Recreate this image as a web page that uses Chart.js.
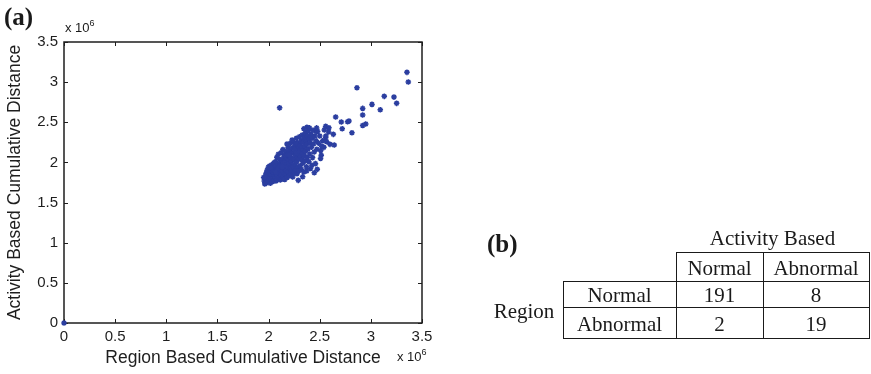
<!DOCTYPE html>
<html>
<head>
<meta charset="utf-8">
<script src="https://cdn.jsdelivr.net/npm/chart.js@4.4.1/dist/chart.umd.min.js"></script>
<style>
  html,body{margin:0;padding:0;background:#fff;}
  #wrap{position:relative;width:871px;height:374px;overflow:hidden;}
  canvas{position:absolute;left:0;top:0;}
  .lbl{position:absolute;white-space:nowrap;color:#1a1a1a;}
  .panel{font-family:"Liberation Serif","Times New Roman",serif;font-weight:bold;font-size:25px;line-height:1;}
  .mult{font-family:"Liberation Sans",Arial,sans-serif;font-size:13px;line-height:1;}
  .mult sup{font-size:9px;position:relative;top:-2px;vertical-align:top;}
  .tt{font-family:"Liberation Serif","Times New Roman",serif;font-size:21px;line-height:1;transform:translate(-50%,-50%);}
  .ln{position:absolute;background:#1a1a1a;}
</style>
</head>
<body>
<div id="wrap">
  <canvas id="c" width="871" height="374"></canvas>
  <div class="lbl panel" style="left:4px;top:4px;">(a)</div>
  <div class="lbl mult" style="left:65px;top:21px;">x 10<sup>6</sup></div>
  <div class="lbl mult" style="left:397px;top:350px;">x 10<sup>6</sup></div>
  <div class="lbl panel" style="left:487px;top:231px;">(b)</div>
</div>
<script>
// ---- scatter data (values in units of 10^6) ----
const regionDist = [
  3.353,3.366,2.864,2.108,3.131,3.226,3.252,3.011,3.092,2.920,
  2.920,2.656,2.711,2.773,2.786,2.720,2.815,2.920,2.950,2.558,
  2.590,2.375,2.366,2.463,2.587,2.633,2.558,2.568,2.600,2.642,
  2.541,2.515,2.476,2.447,2.424,2.372,2.333,2.290,2.284,0,
  1.952,1.958,1.963,1.970,1.975,1.981,1.986,1.990,1.994,1.998,1.999,1.967,1.984,
  2.003,2.006,2.010,2.013,2.017,2.021,2.024,2.028,2.031,2.035,2.038,2.042,2.045,2.048,2.052,2.055,2.058,2.060,2.026,2.047,
  2.063,2.066,2.069,2.072,2.075,2.078,2.081,2.084,2.087,2.090,2.093,2.096,2.099,2.102,2.105,2.108,2.111,2.114,2.117,2.119,2.070,2.095,2.112,
  2.122,2.125,2.128,2.131,2.134,2.137,2.140,2.143,2.146,2.149,2.152,2.155,2.158,2.161,2.164,2.167,2.170,2.173,2.176,2.178,2.135,2.160,
  2.182,2.185,2.188,2.191,2.194,2.197,2.200,2.203,2.206,2.209,2.212,2.215,2.218,2.221,2.224,2.227,2.230,2.233,2.236,2.239,2.200,2.225,
  2.242,2.245,2.248,2.251,2.254,2.257,2.260,2.263,2.266,2.269,2.272,2.275,2.278,2.281,2.284,2.287,2.290,2.293,2.296,2.299,2.255,2.275,
  2.302,2.305,2.308,2.311,2.314,2.317,2.320,2.323,2.326,2.329,2.332,2.335,2.338,2.341,2.344,2.347,2.350,2.353,2.356,2.359,
  2.362,2.366,2.370,2.374,2.378,2.382,2.386,2.390,2.394,2.398,2.402,2.406,2.410,2.414,2.418,
  2.425,2.430,2.435,2.440,2.446,2.452,2.458,2.465,2.472,2.480,2.490,2.500,2.508,
  2.530,2.545,2.520,2.470,2.400,2.345,2.510,2.560,2.180,2.230
];
const activityDist = [
  3.122,3.001,2.930,2.680,2.823,2.814,2.736,2.723,2.656,2.673,
  2.590,2.565,2.503,2.507,2.516,2.420,2.370,2.460,2.478,2.449,
  2.432,2.437,2.375,2.390,2.380,2.350,2.307,2.257,2.225,2.217,
  2.188,2.088,1.914,1.872,1.964,1.893,1.822,1.777,2.245,0,
  1.812,1.768,1.731,1.745,1.861,1.790,1.902,1.752,1.835,1.940,1.801,1.826,1.880,
  1.772,1.868,1.955,1.818,1.741,1.906,1.845,1.790,1.972,1.883,1.760,1.927,1.813,1.858,1.995,1.779,1.942,1.836,1.931,1.880,
  1.901,1.812,2.010,1.768,1.958,1.855,2.063,1.790,1.917,1.833,1.981,2.102,1.874,1.807,1.946,2.040,1.858,1.781,1.991,1.902,1.880,1.930,1.960,
  2.120,1.840,1.962,1.795,2.035,1.898,2.160,1.823,1.995,1.935,2.078,1.862,1.787,2.010,1.918,2.140,1.850,1.970,2.055,1.900,1.945,2.090,
  1.812,2.098,1.945,2.190,1.880,2.031,1.990,1.835,2.150,1.925,2.072,2.238,1.868,2.011,1.960,2.118,1.898,2.180,1.820,2.050,2.100,1.935,
  2.262,1.945,2.120,1.872,2.035,2.205,1.985,2.090,1.905,2.155,2.300,2.010,1.860,2.232,2.065,1.940,2.180,2.110,1.898,2.045,2.160,2.120,
  2.320,2.140,1.960,2.215,2.070,2.268,1.915,2.180,2.035,2.340,2.110,1.990,2.250,2.160,1.880,2.300,2.085,2.205,2.020,2.360,
  2.140,2.280,1.945,2.225,2.060,2.330,2.170,2.395,2.010,2.290,2.105,2.245,1.925,2.350,2.190,
  2.300,2.060,2.400,2.230,2.130,2.330,1.985,2.270,2.165,2.385,2.240,2.330,2.050,
  2.270,2.405,2.200,2.430,2.430,2.420,2.150,2.330,2.230,2.280
];
const xTicks = [0,0.5,1,1.5,2,2.5,3,3.5];
const yTicks = [0,0.5,1,1.5,2,2.5,3,3.5];
const xTickLabels = ['0','0.5','1','1.5','2','2.5','3','3.5'];
const yTickLabels = ['0','0.5','1','1.5','2','2.5','3','3.5'];

// ---- table data ----
const tableColTitle = 'Activity Based';
const tableRowTitle = 'Region';
const classes = ['Normal','Abnormal'];
const counts = [[191,8],[2,19]];

const points = regionDist.map((x,i)=>({x:x,y:activityDist[i]}));

const boxPlugin = {
  id:'box',
  beforeDatasetsDraw(chart){
    const {ctx, chartArea:a, scales:{x,y}} = chart;
    ctx.save();
    ctx.strokeStyle='#1e1e1e';
    ctx.lineWidth=1.5;
    ctx.strokeRect(a.left,a.top,a.right-a.left,a.bottom-a.top);
    ctx.lineWidth=1;
    ctx.beginPath();
    xTicks.forEach(v=>{
      const p=Math.round(x.getPixelForValue(v))+0.5;
      ctx.moveTo(p,a.bottom);ctx.lineTo(p,a.bottom-4);
      ctx.moveTo(p,a.top);ctx.lineTo(p,a.top+4);
    });
    yTicks.forEach(v=>{
      const p=Math.round(y.getPixelForValue(v))+0.5;
      ctx.moveTo(a.left,p);ctx.lineTo(a.left+4,p);
      ctx.moveTo(a.right,p);ctx.lineTo(a.right-4,p);
    });
    ctx.stroke();
    ctx.restore();
  }
};

const tickFont = {family:'"Liberation Sans", Arial, sans-serif', size:15};
const titleFont = {family:'"Liberation Sans", Arial, sans-serif', size:17.5};

new Chart(document.getElementById('c'), {
  type:'scatter',
  data:{datasets:[{
    data:points,
    pointStyle:'star',
    radius:2.8,
    borderWidth:1.5,
    borderColor:'#2b3ea0',
    backgroundColor:'#2b3ea0',
    clip:false
  }]},
  options:{
    responsive:false,
    devicePixelRatio:1,
    animation:false,
    events:[],
    layout:{padding:{left:0,top:42,right:449,bottom:0}},
    plugins:{legend:{display:false},tooltip:{enabled:false}},
    scales:{
      x:{
        type:'linear', min:0, max:3.5,
        afterBuildTicks:(s)=>{s.ticks = xTicks.map(v=>({value:v}));},
        afterFit:(s)=>{s.height=51;},
        grid:{display:false,drawTicks:false},
        border:{display:false},
        ticks:{font:tickFont,color:'#1e1e1e',padding:5,maxRotation:0,autoSkip:false,
               callback:(v,i)=>xTickLabels[i]},
        title:{display:true,text:'Region Based Cumulative Distance',font:titleFont,color:'#1e1e1e',padding:{top:0,bottom:5}}
      },
      y:{
        type:'linear', min:0, max:3.5,
        afterBuildTicks:(s)=>{s.ticks = yTicks.map(v=>({value:v}));},
        afterFit:(s)=>{s.width=64;},
        grid:{display:false,drawTicks:false},
        border:{display:false},
        ticks:{font:tickFont,color:'#1e1e1e',padding:6,autoSkip:false,
               callback:(v,i)=>yTickLabels[i]},
        title:{display:true,text:'Activity Based Cumulative Distance',font:titleFont,color:'#1e1e1e',padding:{top:4.5,bottom:0}}
      }
    }
  },
  plugins:[boxPlugin]
});

// ---- contingency table (HTML) ----
(function(){
  const wrap=document.getElementById('wrap');
  const colX=[563,676,763,869];
  const rowY=[252,281,307,338];
  function line(x,y,w,h){const d=document.createElement('div');d.className='ln';
    d.style.left=x+'px';d.style.top=y+'px';d.style.width=w+'px';d.style.height=h+'px';wrap.appendChild(d);}
  function text(t,cx,cy){const d=document.createElement('div');d.className='lbl tt';
    d.textContent=t;d.style.left=cx+'px';d.style.top=cy+'px';wrap.appendChild(d);}
  line(colX[1],rowY[0],colX[3]-colX[1]+1,1);
  line(colX[0],rowY[1],colX[3]-colX[0]+1,1);
  line(colX[0],rowY[2],colX[3]-colX[0]+1,1);
  line(colX[0],rowY[3],colX[3]-colX[0]+1,1);
  line(colX[0],rowY[1],1,rowY[3]-rowY[1]+1);
  line(colX[1],rowY[0],1,rowY[3]-rowY[0]+1);
  line(colX[2],rowY[0],1,rowY[3]-rowY[0]+1);
  line(colX[3],rowY[0],1,rowY[3]-rowY[0]+1);
  text(tableColTitle,(colX[1]+colX[3])/2,238);
  text(tableRowTitle,524,311);
  classes.forEach((c,j)=>text(c,(colX[j+1]+colX[j+2])/2,(rowY[0]+rowY[1])/2+1));
  classes.forEach((c,i)=>{
    const cy=(rowY[i+1]+rowY[i+2])/2+1;
    text(c,(colX[0]+colX[1])/2,cy);
    counts[i].forEach((v,j)=>text(String(v),(colX[j+1]+colX[j+2])/2,cy));
  });
})();
</script>
</body>
</html>
